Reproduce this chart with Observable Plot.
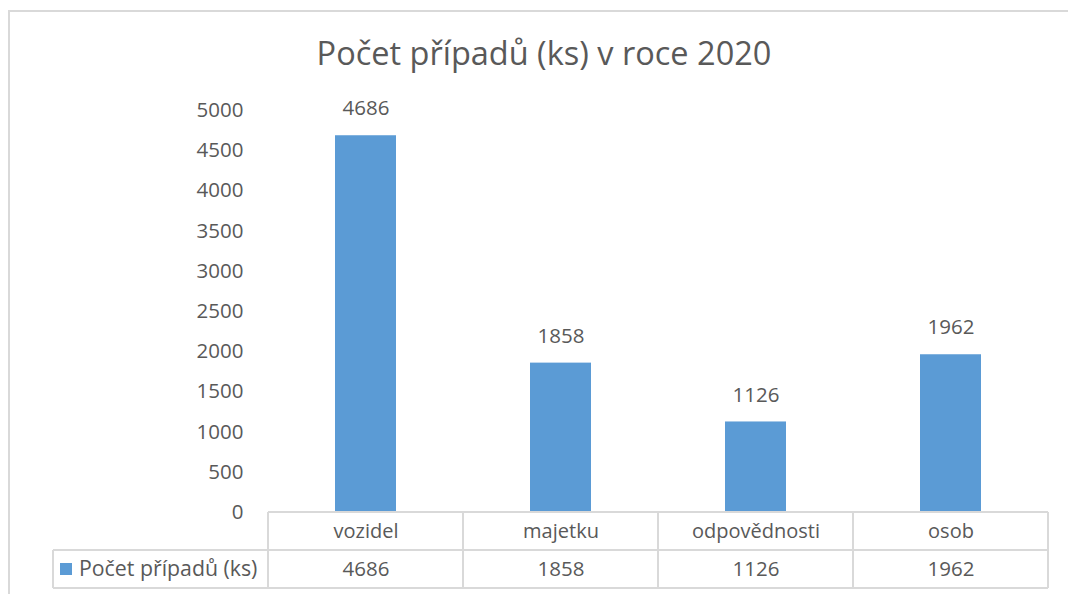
<!DOCTYPE html>
<html>
<head>
<meta charset="utf-8">
<script src="https://cdn.jsdelivr.net/npm/d3@7"></script>
<script src="https://cdn.jsdelivr.net/npm/@observablehq/plot@0.6"></script>
<style>
  html, body { margin: 0; padding: 0; background: #fff; }
  #wrap { position: relative; width: 1068px; height: 594px; overflow: hidden; background: #fff; font-family: "Open Sans", sans-serif; }
  #border { position: absolute; left: 8px; top: 10px; width: 1200px; height: 800px; border: 2px solid #D9D9D9; box-sizing: border-box; }
  #title { position: absolute; left: 0; top: 31px; width: 1088px; text-align: center; font-size: 32.5px; line-height: 44px; color: #595959; white-space: nowrap; }
  #chart { position: absolute; left: 0; top: 0; }
</style>
</head>
<body>
<div id="wrap">
  <div id="border"></div>
  <div id="title">Počet případů (ks) v roce 2020</div>
  <div id="chart"></div>
</div>
<script>
const categories = ["vozidel", "majetku", "odpovědnosti", "osob"];
const values = [4686, 1858, 1126, 1962];
const seriesName = "Počet případů (ks)";
const yTicks = [0, 500, 1000, 1500, 2000, 2500, 3000, 3500, 4000, 4500, 5000];

const data = categories.map((c, i) => ({cat: c, value: values[i]}));

const textColor = "#595959";
const barColor = "#5B9BD5";
const lineColor = "#D9D9D9";

const chart = Plot.plot({
  width: 1068,
  height: 594,
  marginLeft: 266,
  marginRight: 19,
  marginTop: 110,
  marginBottom: 82,
  style: {fontFamily: "Open Sans, sans-serif", fontSize: "20px", color: textColor, background: "transparent", overflow: "visible"},
  x: {domain: categories, padding: 0, axis: null},
  y: {domain: [0, 5000], axis: null},
  marks: [
    Plot.axisY({ticks: yTicks, tickFormat: d3.format("d"), tickSize: 0, tickPadding: 23, label: null, fontSize: 20.5, fill: textColor}),
    Plot.barY(data, {x: "cat", y: "value", fill: barColor, insetLeft: 67, insetRight: 67}),
    Plot.text(data, {x: "cat", y: "value", text: d => String(d.value), dy: -27, fontSize: 20.5, fill: textColor}),
    Plot.text(data, {x: "cat", y: () => 0, text: "cat", dy: 19, fontSize: 20, fill: textColor}),
    Plot.text(data, {x: "cat", y: () => 0, text: d => String(d.value), dy: 57, fontSize: 20.5, fill: textColor})
  ]
});

document.getElementById("chart").appendChild(chart);

// Data table grid built from the chart's scales
const xs = chart.scale("x");
const ys = chart.scale("y");
const bw = xs.bandwidth;
const y0 = ys.apply(0);
const rowH = 38;
const left = xs.apply(categories[0]);
const right = xs.apply(categories[categories.length - 1]) + bw;
const legendLeft = 53;
const svg = d3.select(chart);
const g = svg.append("g").attr("stroke", lineColor).attr("stroke-width", 2).attr("fill", "none");
g.append("line").attr("x1", left).attr("x2", right).attr("y1", y0).attr("y2", y0);
g.append("line").attr("x1", legendLeft).attr("x2", right).attr("y1", y0 + rowH).attr("y2", y0 + rowH);
g.append("line").attr("x1", legendLeft).attr("x2", right).attr("y1", y0 + 2 * rowH).attr("y2", y0 + 2 * rowH);
g.append("line").attr("x1", legendLeft).attr("x2", legendLeft).attr("y1", y0 + rowH).attr("y2", y0 + 2 * rowH);
categories.forEach(c => {
  const x = xs.apply(c);
  g.append("line").attr("x1", x).attr("x2", x).attr("y1", y0).attr("y2", y0 + 2 * rowH);
});
g.append("line").attr("x1", right).attr("x2", right).attr("y1", y0).attr("y2", y0 + 2 * rowH);

// Legend key in the table
svg.append("rect").attr("x", 60).attr("y", y0 + rowH + 13).attr("width", 12).attr("height", 12).attr("fill", barColor);
svg.append("text").attr("x", 79).attr("y", y0 + 1.5 * rowH).attr("dy", "0.35em")
  .attr("text-anchor", "start")
  .attr("fill", textColor).attr("font-size", 21.3).attr("font-family", "Open Sans, sans-serif")
  .text(seriesName);
</script>
</body>
</html>
